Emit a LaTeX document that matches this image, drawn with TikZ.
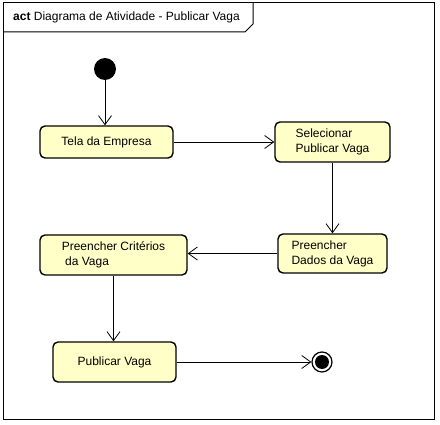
\documentclass[tikz,border=0pt]{standalone}
\usepackage{fontspec}
\setmainfont{Liberation Sans}
\usetikzlibrary{arrows.meta}
\definecolor{boxfill}{HTML}{FFFFC8}
\tikzset{
  actbox/.style={draw=black, fill=boxfill, rounded corners=5pt, line width=1.4pt, inner sep=0pt, align=left, font=\fontsize{12}{15}\selectfont},
  flow/.style={draw=black, line width=0.8pt, -{Straight Barb[length=9pt,width=13pt,line width=0.8pt]}},
  frame/.style={draw=black, line width=1pt}
}
\begin{document}
\begin{tikzpicture}[x=1pt,y=-1pt]
\useasboundingbox (0,0) rectangle (440,425);
\draw[frame] (3,3) rectangle (434,420);
\draw[frame] (3,32) -- (245,32) -- (253,24) -- (253,3);
\node[anchor=base west, inner sep=0pt, font=\fontsize{12}{14}\selectfont] (title) at (13,21) {\textbf{act} Diagrama de Atividade - Publicar Vaga};

\node[circle, fill=black, minimum size=22pt, inner sep=0pt] (init) at (105,69) {};
\node[actbox, minimum width=133pt, minimum height=32pt] (tela) at (106.5,142) {Tela da Empresa};
\node[actbox, minimum width=115pt, minimum height=40pt] (sel) at (332.5,142) {Selecionar\\Publicar Vaga};
\node[actbox, minimum width=109pt, minimum height=39pt] (dados) at (332.5,253.5) {Preencher\\Dados da Vaga};
\node[actbox, minimum width=147pt, minimum height=40pt] (crit) at (113.5,255) {Preencher Critérios\\\ da Vaga};
\node[actbox, minimum width=123pt, minimum height=40pt] (pub) at (114.5,362) {Publicar Vaga};
\node[circle, draw=black, line width=1.2pt, minimum size=20pt, inner sep=0pt] (final) at (322,362) {};
\fill[black] (final.center) circle (7pt);

\draw[flow] (init.south) -- (init.south |- tela.north);
\draw[flow] (tela.east) -- (sel.west);
\draw[flow] (sel.south) -- (dados.north);
\draw[flow] (dados.west) -- (dados.west -| crit.east);
\draw[flow] (crit.south) -- (crit.south |- pub.north);
\draw[flow] (pub.east) -- (final.west);
\end{tikzpicture}
\end{document}
